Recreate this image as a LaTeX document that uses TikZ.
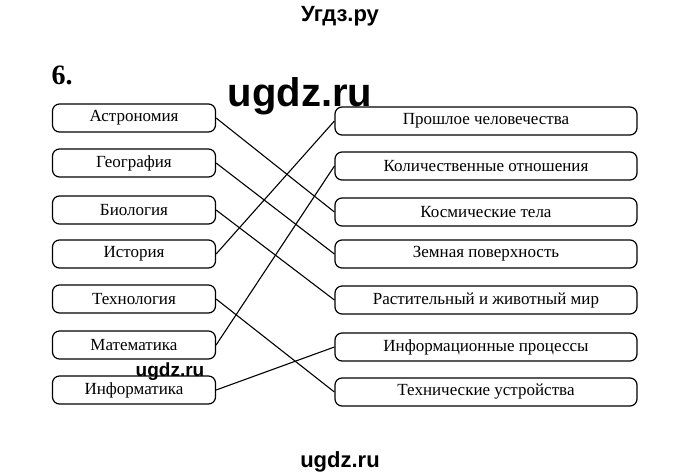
\documentclass[tikz,border=0pt]{standalone}
\usepackage{fontspec}
\setmainfont{Liberation Serif}
\newfontfamily\wmfont{Liberation Sans}
\usetikzlibrary{positioning}

\tikzset{
  leftbox/.style={draw,line width=1.2pt,rounded corners=7pt,minimum width=163pt,minimum height=28pt,inner sep=1pt,font=\fontsize{17}{19}\selectfont},
  rightbox/.style={draw,line width=1.2pt,rounded corners=7pt,minimum width=302pt,minimum height=28pt,inner sep=1pt,font=\fontsize{17}{19}\selectfont},
  link/.style={line width=1.1pt}
}

\begin{document}
\begin{tikzpicture}[x=1pt,y=-1pt]
  \useasboundingbox (0,0) rectangle (680,475);
  % headings and marks
  \node[font=\wmfont\bfseries\fontsize{22}{24}\selectfont] (title) at (340,16) {Угдз.ру};
  \node[font=\bfseries\fontsize{28}{30}\selectfont] (num) at (62,75) {6.};
  \node[font=\wmfont\bfseries\fontsize{40}{44}\selectfont] (wm1) at (300,96) {ugdz.ru};
  \node[font=\wmfont\bfseries\fontsize{19}{21}\selectfont] (wm2) at (170,372) {ugdz.ru};
  \node[font=\wmfont\bfseries\fontsize{22}{24}\selectfont] (wm3) at (340,462) {ugdz.ru};
  % subjects
  \node[leftbox] (astro) at (134,118) {Астрономия};
  \node[leftbox] (geo)   at (134,163) {География};
  \node[leftbox] (bio)   at (134,210) {Биология};
  \node[leftbox] (hist)  at (134,254) {История};
  \node[leftbox] (tech)  at (134,299) {Технология};
  \node[leftbox] (math)  at (134,345) {Математика};
  \node[leftbox] (inf)   at (134,390) {Информатика};
  % topics
  \node[rightbox] (past)  at (486,121) {Прошлое человечества};
  \node[rightbox] (quant) at (486,166) {Количественные отношения};
  \node[rightbox] (space) at (486,212) {Космические тела};
  \node[rightbox] (earth) at (486,254) {Земная поверхность};
  \node[rightbox] (life)  at (486,300) {Растительный и животный мир};
  \node[rightbox] (info)  at (486,347) {Информационные процессы};
  \node[rightbox] (dev)   at (486,392) {Технические устройства};
  % links
  \draw[link] (astro.east) -- (space.west);
  \draw[link] (geo.east) -- (earth.west);
  \draw[link] (bio.east) -- (life.west);
  \draw[link] (hist.east) -- (past.west);
  \draw[link] (tech.east) -- (dev.west);
  \draw[link] (math.east) -- (quant.west);
  \draw[link] (inf.east) -- (info.west);
\end{tikzpicture}
\end{document}
